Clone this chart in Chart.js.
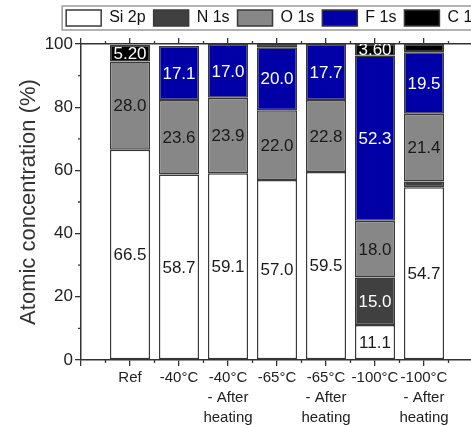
<!DOCTYPE html>
<html><head><meta charset="utf-8">
<script src="https://cdn.jsdelivr.net/npm/chart.js@4"></script>
<style>
html,body{margin:0;padding:0;overflow:hidden;background:#fff;width:471px;height:425px}
#wrap{position:absolute;left:0;top:0;width:566px;height:425px}
</style>
</head><body><div id="wrap"><canvas id="c" width="566" height="425"></canvas></div>
<script>
const categories = [['Ref'], ['-40°C'], ['-40°C','- After','heating'], ['-65°C'], ['-65°C','- After','heating'], ['-100°C'], ['-100°C','- After','heating']];
const seriesNames = ['Si 2p', 'N 1s', 'O 1s', 'F 1s', 'C 1s'];
const siValues = [66.5, 58.7, 59.1, 57.0, 59.5, 11.1, 54.7];
const nValues  = [0, 0, 0, 0, 0, 15.0, 1.8];
const oValues  = [28.0, 23.6, 23.9, 22.0, 22.8, 18.0, 21.4];
const fValues  = [0, 17.1, 17.0, 20.0, 17.7, 52.3, 19.5];
const cValues  = [5.2, 0, 0, 1.0, 0, 3.6, 2.6];
const yTickLabels = [0, 20, 40, 60, 80, 100];

const fills = ['#ffffff', '#404040', '#878787', '#0000a6', '#000000'];
const textColors = ['#1a1a1a', '#ffffff', '#1a1a1a', '#ffffff', '#ffffff'];
const axisColor = '#333333';
const FONT = '"Liberation Sans", Arial, sans-serif';
const X_MAX = 9.5;

const allSeries = [siValues, nValues, oValues, fValues, cValues];
const datasets = allSeries.map((vals, k) => ({
  label: seriesNames[k],
  data: vals.map((v, i) => ({ x: i + 1, y: v > 0 ? v : null })),
  backgroundColor: fills[k],
  borderColor: '#3a3a3a',
  borderWidth: 1.5,
  borderSkipped: false,
  barPercentage: 0.82,
  categoryPercentage: 1.0
}));

const valueLabels = {
  id: 'valueLabels',
  afterDatasetsDraw(chart) {
    const ctx = chart.ctx, a = chart.chartArea;
    ctx.save();
    ctx.beginPath();
    ctx.rect(a.left, a.top, a.right - a.left, a.bottom - a.top);
    ctx.clip();
    ctx.font = '17px ' + FONT;
    ctx.textAlign = 'center';
    ctx.textBaseline = 'middle';
    chart.data.datasets.forEach((ds, di) => {
      const meta = chart.getDatasetMeta(di);
      meta.data.forEach((bar, i) => {
        const v = ds.data[i].y;
        if (v === null || v < 3) return;
        ctx.fillStyle = textColors[di];
        ctx.fillText(v.toPrecision(3), bar.x, (bar.y + bar.base) / 2 + 1);
      });
    });
    ctx.restore();
  }
};

const extras = {
  id: 'extras',
  afterDraw(chart) {
    const ctx = chart.ctx, a = chart.chartArea;
    const xs = chart.scales.x, ys = chart.scales.y;
    ctx.save();
    ctx.strokeStyle = axisColor;
    ctx.lineWidth = 1.3;
    ctx.beginPath();
    for (let k = 0.5; k < X_MAX; k += 1) {
      const px = xs.getPixelForValue(k);
      ctx.moveTo(px, a.bottom); ctx.lineTo(px, a.bottom + 3);
      ctx.moveTo(px, a.top); ctx.lineTo(px, a.top - 3);
    }
    for (let v = 10; v < 100; v += 20) {
      const py = ys.getPixelForValue(v);
      ctx.moveTo(a.left, py); ctx.lineTo(a.left - 3, py);
    }
    ctx.stroke();
    const hb = chart.legend && chart.legend.legendHitBoxes;
    if (hb && hb.length) {
      ctx.strokeStyle = '#9a9a9a';
      ctx.lineWidth = 1.5;
      const top = hb[0].top - 4, bottom = hb[0].top + hb[0].height + 4;
      ctx.strokeRect(hb[0].left - 4, top, chart.width, bottom - top);
    }
    ctx.restore();
  }
};

new Chart(document.getElementById('c'), {
  type: 'bar',
  data: { datasets },
  options: {
    responsive: false,
    animation: false,
    layout: { padding: { left: 0, right: 19.5, top: 2, bottom: 0 } },
    plugins: {
      tooltip: { enabled: false },
      legend: {
        position: 'top',
        labels: {
          boxWidth: 35, boxHeight: 16, padding: 8,
          color: '#111', font: { family: FONT, size: 16 }
        }
      }
    },
    scales: {
      x: {
        type: 'linear', stacked: true, min: 0, max: X_MAX, offset: false,
        afterFit(s) { s.height = 65; },
        grid: { drawOnChartArea: false, offset: false, tickLength: 6, color: axisColor, lineWidth: 1.3 },
        border: { color: axisColor, width: 1.5 },
        ticks: {
          stepSize: 1, autoSkip: false, maxRotation: 0, padding: 2,
          color: '#222', font: { family: FONT, size: 15, lineHeight: 1.33 },
          callback(v) { return (Number.isInteger(v) && v >= 1 && v <= categories.length) ? categories[v - 1] : ''; }
        }
      },
      x2: {
        type: 'linear', position: 'top', min: 0, max: X_MAX, offset: false,
        afterFit(s) { s.height = 8; },
        grid: { drawOnChartArea: false, offset: false, tickLength: 6, color: axisColor, lineWidth: 1.3 },
        border: { color: axisColor, width: 1.5 },
        ticks: { stepSize: 1, callback() { return ''; } }
      },
      y: {
        stacked: true, min: 0, max: 100,
        afterFit(s) { s.width = 81; },
        grid: { drawOnChartArea: false, tickLength: 6, color: axisColor, lineWidth: 1.3 },
        border: { color: axisColor, width: 1.5 },
        ticks: {
          stepSize: 20, padding: 2, color: '#222', font: { family: FONT, size: 17 },
          callback(v) { return yTickLabels.includes(v) ? String(v) : ''; }
        },
        title: {
          display: true, text: 'Atomic concentration (%)', color: '#333',
          font: { family: FONT, size: 22 }, padding: { top: 16, bottom: 0 }
        }
      }
    }
  },
  plugins: [valueLabels, extras]
});
</script>
</body></html>
